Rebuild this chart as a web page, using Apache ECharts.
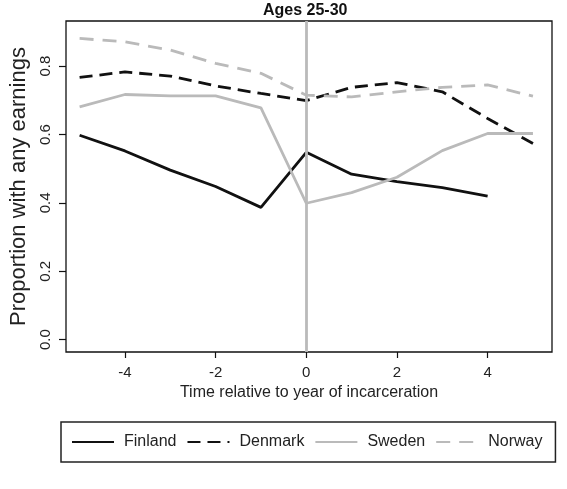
<!DOCTYPE html>
<html>
<head>
<meta charset="utf-8">
<script src="https://cdn.jsdelivr.net/npm/echarts@6/dist/echarts.min.js"></script>
<style>
  html, body { margin: 0; padding: 0; background: #fff; }
  #chart { width: 567px; height: 489px; }
</style>
</head>
<body>
<div id="chart"></div>
<script>
// years relative to incarceration
const years = [-5, -4, -3, -2, -1, 0, 1, 2, 3, 4, 5];
const xTicks = [-4, -2, 0, 2, 4];
const yTicks = [0, 0.2, 0.4, 0.6, 0.8];

const finland = [0.598, 0.552, 0.496, 0.448, 0.387, 0.548, 0.484, 0.462, 0.445, 0.42, null];
const denmark = [0.767, 0.783, 0.771, 0.742, 0.72, 0.699, 0.738, 0.752, 0.725, 0.647, 0.574];
const sweden = [0.681, 0.717, 0.713, 0.713, 0.678, 0.399, 0.43, 0.475, 0.553, 0.603, 0.603];
const norway = [0.881, 0.871, 0.847, 0.808, 0.779, 0.715, 0.71, 0.725, 0.738, 0.745, 0.712];

const FONT = '"Liberation Sans", Arial, sans-serif';
const BLACK = '#111';
const GREY = '#bababa';

const pairs = arr => years.map((y, i) => [y, arr[i]]);

function line(name, data, color, dash) {
    return {
        name: name,
        type: 'line',
        data: pairs(data),
        symbol: 'none',
        connectNulls: false,
        lineStyle: { color: color, width: 2.8, type: dash || 'solid' },
        itemStyle: { color: color },
        animation: false
    };
}

const chart = echarts.init(document.getElementById('chart'));

const sweLine = line('Sweden', sweden, GREY);
sweLine.markLine = {
    silent: true,
    symbol: ['none', 'none'],
    label: { show: false },
    lineStyle: { color: GREY, width: 2.8, type: 'solid' },
    data: [{ xAxis: 0 }],
    animation: false
};

chart.setOption({
    backgroundColor: '#fff',
    textStyle: { fontFamily: FONT },
    title: {
        text: 'Ages 25-30',
        left: 258,
        top: -2,
        textStyle: { fontFamily: FONT, fontSize: 16, fontWeight: 'bold', color: '#111' }
    },
    grid: {
        left: 65, right: 15, top: 21, bottom: 137,
        show: true, borderColor: '#111', borderWidth: 1.3,
        containLabel: false
    },
    legend: {
        left: 61, top: 422,
        padding: [12, 13, 12, 10],
        borderColor: '#222', borderWidth: 1.5,
        itemWidth: 42, itemHeight: 15, itemGap: 10,
        itemStyle: { opacity: 0 },
        data: ['Finland', 'Denmark', 'Sweden', 'Norway'],
        textStyle: { fontFamily: FONT, fontSize: 16, color: '#222', padding: [0, 0, 0, 5] }
    },
    xAxis: {
        type: 'value',
        min: -5.3, max: 5.42,
        name: 'Time relative to year of incarceration',
        nameLocation: 'middle',
        nameGap: 27,
        nameTextStyle: { fontFamily: FONT, fontSize: 16, color: '#222' },
        axisLine: { show: false, onZero: false },
        splitLine: { show: false },
        axisTick: { show: true, length: 6, customValues: xTicks, lineStyle: { color: '#111', width: 1.2 } },
        axisLabel: { customValues: xTicks, margin: 13, fontSize: 15, color: '#222', fontFamily: FONT }
    },
    yAxis: {
        type: 'value',
        min: -0.036, max: 0.932,
        name: 'Proportion with any earnings',
        nameLocation: 'middle',
        nameGap: 36,
        nameRotate: 90,
        nameTextStyle: { fontFamily: FONT, fontSize: 22, color: '#222' },
        axisLine: { show: false, onZero: false },
        splitLine: { show: false },
        axisTick: { show: true, length: 7, customValues: yTicks, lineStyle: { color: '#111', width: 1.2 } },
        axisLabel: {
            customValues: yTicks, rotate: 90, margin: 13, fontSize: 15, color: '#222', fontFamily: FONT,
            formatter: v => v.toFixed(1)
        }
    },
    series: [
        line('Finland', finland, BLACK),
        line('Denmark', denmark, BLACK, [13, 7]),
        sweLine,
        line('Norway', norway, GREY, [14, 9])
    ]
});
</script>
</body>
</html>
